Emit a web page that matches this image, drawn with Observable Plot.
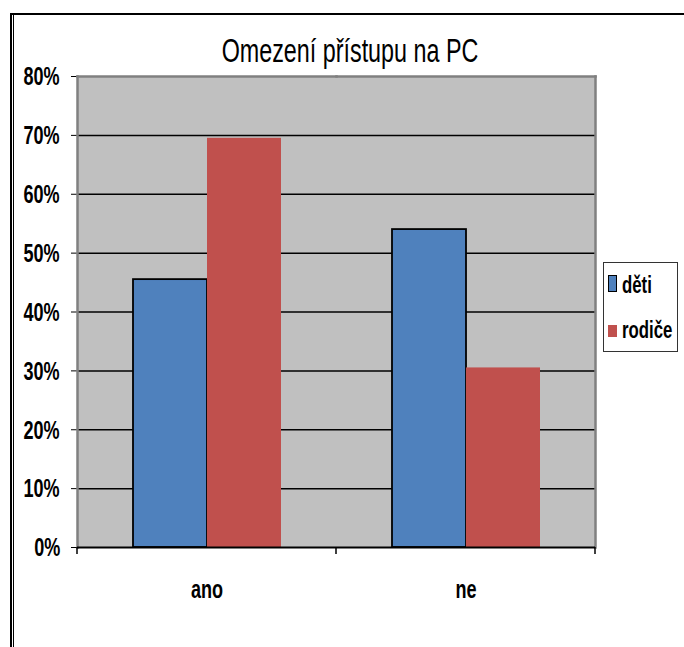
<!DOCTYPE html>
<html><head><meta charset="utf-8">
<script src="https://cdn.jsdelivr.net/npm/d3@7"></script>
<script src="https://cdn.jsdelivr.net/npm/@observablehq/plot@0.6"></script>
<style>
body{margin:0;background:#fff;}
#wrap{position:relative;width:684px;height:647px;overflow:hidden;font-family:"Liberation Sans Narrow","Arial Narrow","Liberation Sans",Arial,sans-serif;}
.ln{position:absolute;background:#000;}
#title{position:absolute;left:0;top:36px;width:700px;text-align:center;font-size:27px;line-height:31px;color:#000;transform:scale(0.864,1.26);transform-origin:350px 15px;}
#chart{position:absolute;left:0;top:0;}
#legend{position:absolute;left:603px;top:262px;width:75px;height:90px;border:1px solid #333;background:#fff;box-sizing:border-box;}
.sw{position:absolute;box-sizing:border-box;}
.t{position:absolute;left:18px;font-weight:bold;font-size:20px;line-height:20px;white-space:nowrap;transform:scale(0.84,1.2);transform-origin:0 17px;}
</style></head>
<body>
<div id="wrap">
  <div class="ln" style="left:10px;top:13px;width:680px;height:2px"></div>
  <div class="ln" style="left:10px;top:13px;width:1.5px;height:640px"></div>
  <div class="ln" style="left:12.5px;top:15px;width:1.5px;height:640px"></div>
  <div id="title"></div>
  <div id="chart"></div>
  <div id="legend"></div>
</div>
<script>
const titleText = "Omezení přístupu na PC";
const categories = ["ano", "ne"];
const series = ["děti", "rodiče"];
const detiValues = [0.455, 0.54];
const rodiceValues = [0.695, 0.305];
const colors = ["#4F81BD", "#C0504D"];
const yTicks = [0, 0.1, 0.2, 0.3, 0.4, 0.5, 0.6, 0.7, 0.8];

const rows = [];
categories.forEach((c, i) => {
  rows.push({category: c, series: series[0], value: detiValues[i]});
  rows.push({category: c, series: series[1], value: rodiceValues[i]});
});

document.getElementById("title").textContent = titleText;

const chart = Plot.plot({
  width: 600,
  height: 640,
  marginLeft: 77,
  marginRight: 5,
  marginTop: 76,
  marginBottom: 93,
  style: {fontFamily: '"Liberation Sans Narrow","Arial Narrow","Liberation Sans",Arial,sans-serif', fontSize: "21px", fontWeight: "bold", color: "#000", background: "transparent", overflow: "visible"},
  fx: {domain: categories, padding: 0, label: null, axis: "bottom", tickSize: 0, tickPadding: 34},
  x: {domain: series, paddingInner: 0, paddingOuter: 0.75, axis: null},
  y: {domain: [0, 0.8], ticks: yTicks, tickFormat: d => Math.round(d * 100) + "%", tickSize: 6, tickPadding: 9, label: null},
  color: {domain: series, range: colors},
  marks: [
    Plot.frame({fill: "#C0C0C0", stroke: "#C0C0C0"}),
    Plot.ruleY(yTicks.filter(t => t > 0 && t < 0.8), {stroke: "#000", strokeWidth: 1.5}),
    Plot.barY(rows, {filter: d => d.series === series[0], fx: "category", x: "series", y: "value", fill: "series", stroke: "#000", strokeWidth: 1.8}),
    Plot.barY(rows, {filter: d => d.series === series[1], fx: "category", x: "series", y: "value", fill: "series"}),
    Plot.frame({anchor: "top", stroke: "#808080", strokeWidth: 2.5}),
    Plot.frame({anchor: "left", stroke: "#808080", strokeWidth: 2.5, facetAnchor: "left"}),
    Plot.frame({anchor: "right", stroke: "#808080", strokeWidth: 2.5, facetAnchor: "right"}),
    Plot.ruleY([0], {stroke: "#000", strokeWidth: 2})
  ]
});
document.getElementById("chart").appendChild(chart);

// condensed, slightly tall lettering like the original
d3.select(chart).selectAll("text").each(function() {
  const b = this.getBBox();
  const cx = b.x + b.width / 2, cy = b.y + b.height / 2;
  const t = this.getAttribute("transform") || "";
  this.setAttribute("transform", `${t} translate(${cx},${cy}) scale(0.86,1.27) translate(${-cx},${-cy})`);
});

// category boundary ticks below the x axis (Excel style), from Plot's scales
const fx = chart.scale("fx");
const y = chart.scale("y");
const y0 = y.apply(0);
const bounds = categories.map(c => fx.apply(c)).concat([fx.apply(categories[categories.length - 1]) + fx.bandwidth]);
d3.select(chart).append("g").selectAll("line").data(bounds).join("line")
  .attr("x1", d => d).attr("x2", d => d).attr("y1", y0).attr("y2", y0 + 7)
  .attr("stroke", "#000").attr("stroke-width", 1.5);

// legend
const legend = d3.select("#legend");
const swSpec = [{top: 12, h: 17}, {top: 62, h: 12}];
const textTops = [13, 58];
series.forEach((s, i) => {
  legend.append("div").attr("class", "sw")
    .style("left", "4px").style("width", "9px")
    .style("top", swSpec[i].top + "px").style("height", swSpec[i].h + "px")
    .style("background", colors[i])
    .style("border", i === 0 ? "1.5px solid #000" : "none");
  legend.append("div").attr("class", "t").style("top", textTops[i] + "px").text(s);
});
</script>
</body></html>
